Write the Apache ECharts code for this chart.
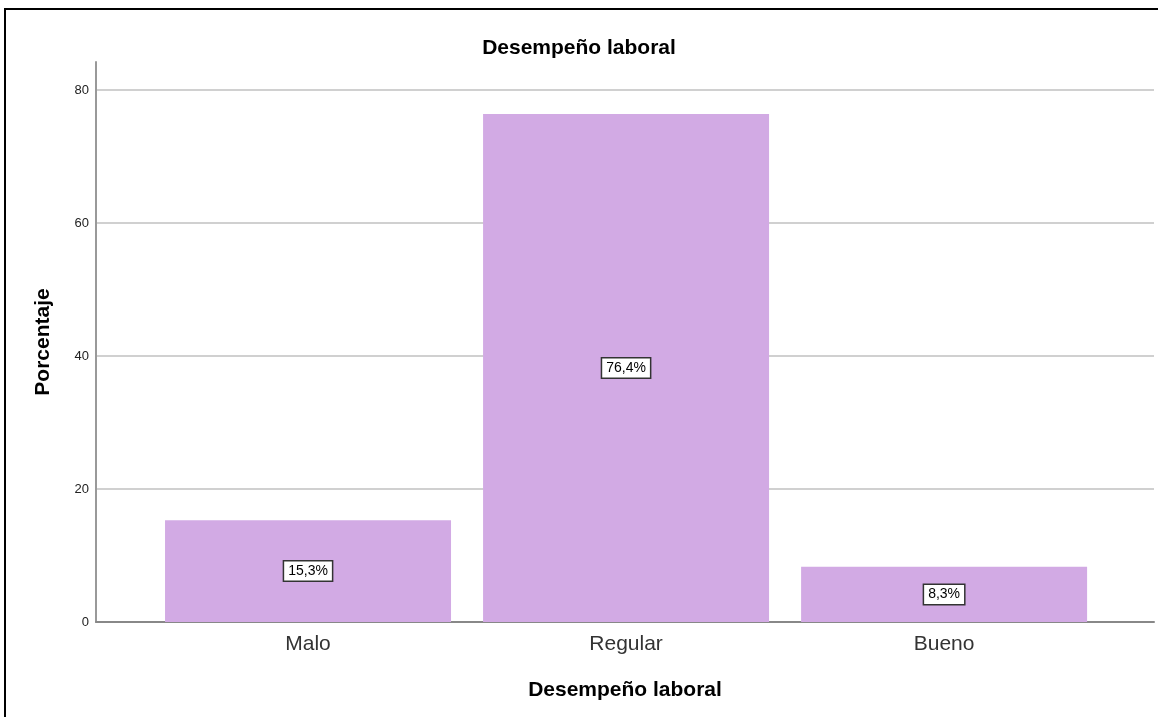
<!DOCTYPE html>
<html>
<head>
<meta charset="utf-8">
<script src="https://cdn.jsdelivr.net/npm/echarts@6/dist/echarts.min.js"></script>
<style>
html,body{margin:0;padding:0;background:#fff;}
#chart{width:1158px;height:717px;}
</style>
</head>
<body>
<div id="chart"></div>
<script>
const categories = ['Malo', 'Regular', 'Bueno'];
const percentages = [15.3, 76.4, 8.3];
const yTicks = [0, 20, 40, 60, 80];
const titleText = 'Desempeño laboral';
const xTitle = 'Desempeño laboral';
const yTitle = 'Porcentaje';

const positions = categories.map((c, i) => i + 1);
const fontFamily = '"Liberation Sans", Arial, sans-serif';

const chart = echarts.init(document.getElementById('chart'));
chart.setOption({
  animation: false,
  backgroundColor: '#fff',
  title: {
    text: titleText,
    left: 'center',
    top: 33,
    textStyle: { fontFamily, fontSize: 21, fontWeight: 'bold', color: '#000' }
  },
  graphic: [{
    type: 'rect',
    shape: { x: 5, y: 9, width: 1170, height: 730 },
    style: { fill: 'none', stroke: '#000', lineWidth: 2 },
    z: 100
  }],
  grid: { left: 96, right: 4, top: 62, bottom: 95, containLabel: false },
  xAxis: {
    type: 'value',
    min: 1 / 3,
    max: 3.66,
    name: xTitle,
    nameLocation: 'middle',
    nameGap: 58,
    nameTextStyle: { fontFamily, fontSize: 21, fontWeight: 'bold', color: '#000' },
    axisLine: { show: true, lineStyle: { color: '#888', width: 2 } },
    axisTick: { show: false },
    splitLine: { show: false },
    axisLabel: {
      customValues: positions,
      formatter: v => categories[Math.round(v) - 1] || '',
      fontFamily, fontSize: 21, color: '#333', margin: 12
    }
  },
  yAxis: {
    type: 'value',
    min: 0,
    max: 84.2,
    interval: 20,
    name: yTitle,
    nameLocation: 'middle',
    nameGap: 42,
    nameRotate: 90,
    nameTextStyle: { fontFamily, fontSize: 21, fontWeight: 'bold', color: '#000' },
    axisLine: { show: true, lineStyle: { color: '#999', width: 2 } },
    axisTick: { show: false },
    axisLabel: {
      customValues: yTicks,
      fontFamily, fontSize: 13, color: '#222', margin: 7
    },
    splitLine: {
      show: true,
      showMinLine: false,
      showMaxLine: false,
      lineStyle: { color: '#d0d0d0', width: 2 }
    }
  },
  series: [{
    type: 'bar',
    barWidth: 286,
    data: positions.map((p, i) => [p, percentages[i]]),
    itemStyle: { color: '#d2aae4' },
    label: {
      show: true,
      position: 'inside',
      formatter: p => p.value[1].toFixed(1).replace('.', ',') + '%',
      fontFamily, fontSize: 14, color: '#000',
      backgroundColor: '#fff',
      borderColor: '#333',
      borderWidth: 1.5,
      padding: [3, 4, 2, 4]
    }
  }]
});
</script>
</body>
</html>
